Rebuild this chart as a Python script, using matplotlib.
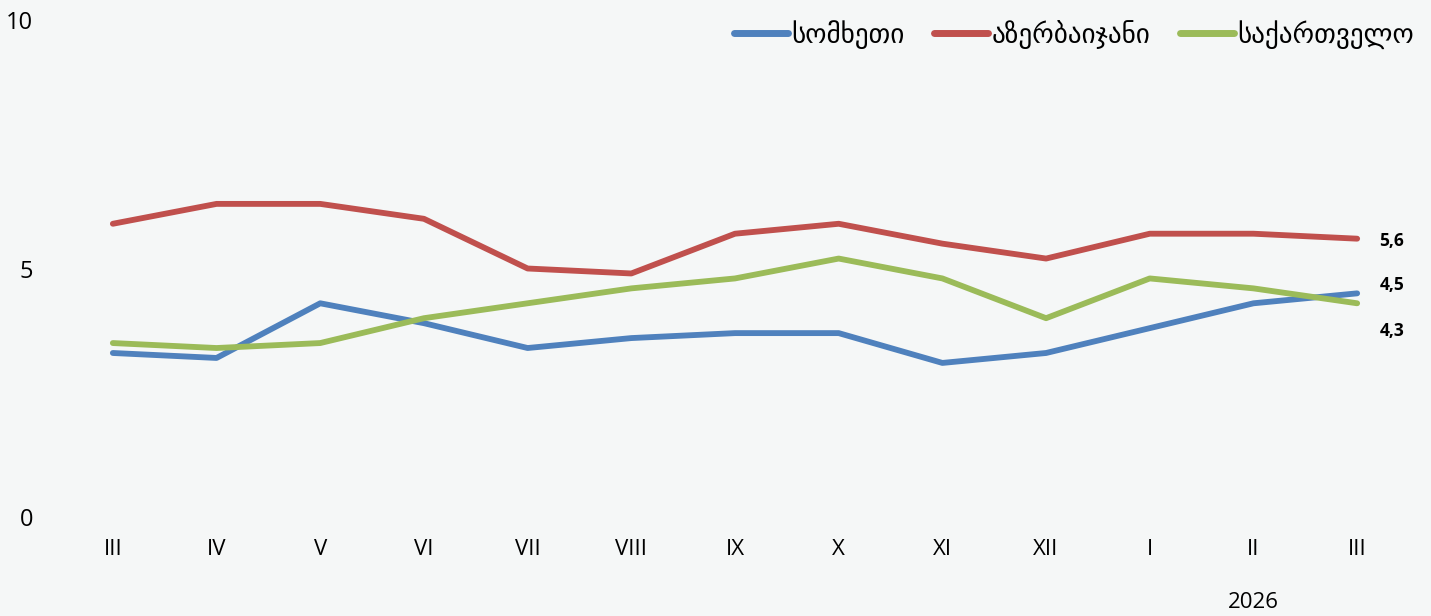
import numpy as np
import matplotlib
matplotlib.use("Agg")
import matplotlib.pyplot as plt

# months (roman numerals), last three belong to 2026
months = ["III", "IV", "V", "VI", "VII", "VIII", "IX", "X", "XI", "XII", "I", "II", "III"]
year_label = "2026"

armenia = [3.3, 3.2, 4.3, 3.9, 3.4, 3.6, 3.7, 3.7, 3.1, 3.3, 3.8, 4.3, 4.5]
azerbaijan = [5.9, 6.3, 6.3, 6.0, 5.0, 4.9, 5.7, 5.9, 5.5, 5.2, 5.7, 5.7, 5.6]
georgia = [3.5, 3.4, 3.5, 4.0, 4.3, 4.6, 4.8, 5.2, 4.8, 4.0, 4.8, 4.6, 4.3]

names = ["სომხეთი", "აზერბაიჯანი", "საქართველო"]
colors = ["#4f81bd", "#c0504d", "#9bbb59"]
end_labels = ["4,5", "5,6", "4,3"]

bg = "#f5f7f7"
plt.rcParams['font.family'] = ['Open Sans', 'DejaVu Sans']

fig = plt.figure(figsize=(14.31, 6.16), dpi=100, facecolor=bg)
ax = fig.add_axes([61 / 1431, 1 - 517 / 616, (1409 - 61) / 1431, (517 - 20) / 616])
ax.set_facecolor(bg)

x = np.arange(len(months))
series = [armenia, azerbaijan, georgia]
for vals, name, c in zip(series, names, colors):
    ax.plot(x, vals, color=c, lw=4.2, label=name, solid_capstyle="round")

# data labels at the last point (nudged apart like the original)
offsets = [0.17, -0.05, -0.55]
for vals, lab, off in zip(series, end_labels, offsets):
    ax.annotate(lab, (x[-1], vals[-1] + off), xytext=(16, 0), textcoords="offset points",
                va="center", ha="left", fontsize=12.5, fontweight="bold")

ax.set_xlim(-0.5, len(months) - 0.5)
ax.set_ylim(0, 10)
ax.set_yticks([0, 5, 10])
ax.set_xticks(x)
ax.set_xticklabels(months)
ax.tick_params(axis="both", length=0)
ax.tick_params(axis="y", pad=20, labelsize=17)
ax.tick_params(axis="x", pad=16, labelsize=16)
for s in ax.spines.values():
    s.set_visible(False)

fig.text(ax.transData.transform((x[-2], 0))[0] / fig.bbox.width, 1 - 603 / 616, year_label,
         ha="center", va="center", fontsize=16)

leg = ax.legend(loc="upper right", bbox_to_anchor=(1.022, 1.05), ncol=3, frameon=False,
                handlelength=2.0, columnspacing=1.1, handletextpad=0.12,
                prop={'family': ['DejaVu Sans'], 'size': 19.5})
for h in leg.get_lines():
    h.set_linewidth(5)

fig.savefig("out.png", dpi=100, facecolor=bg)
